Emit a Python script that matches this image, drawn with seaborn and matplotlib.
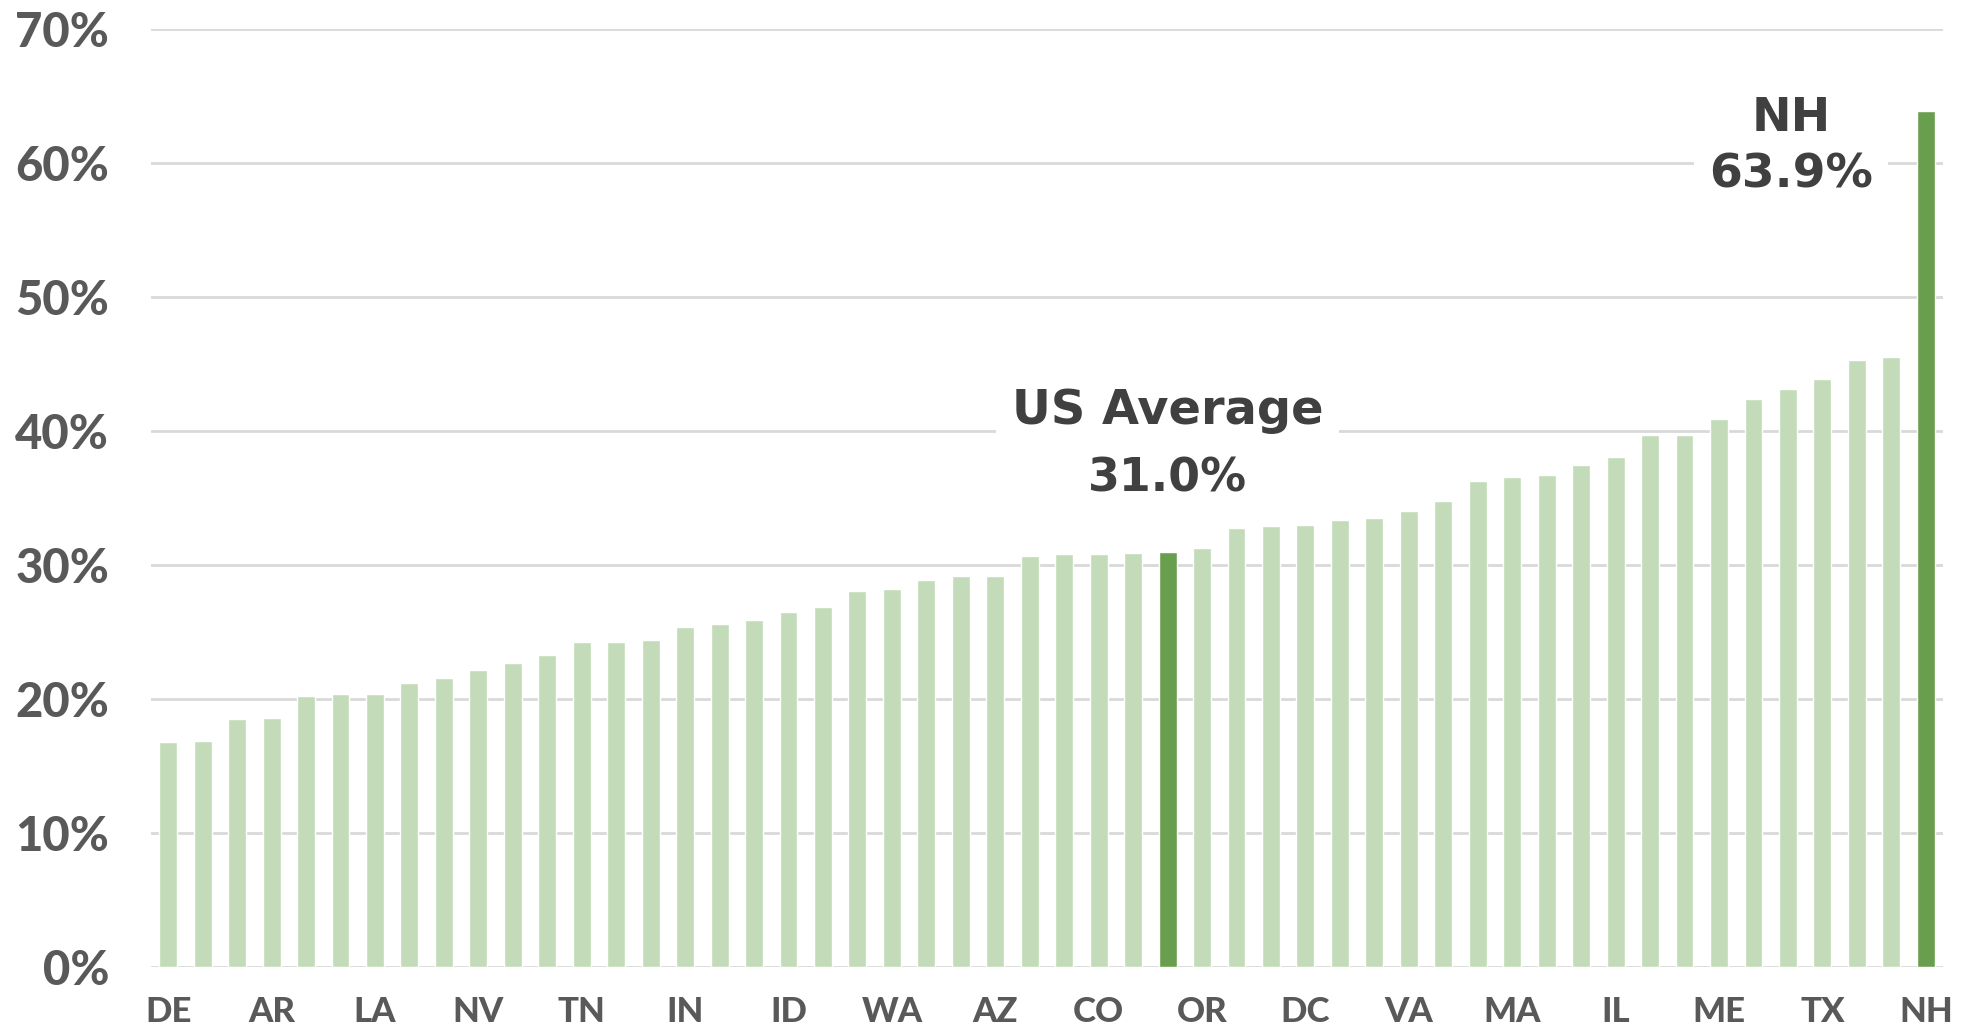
import numpy as np
import pandas as pd
import seaborn as sns
import matplotlib.pyplot as plt

# labelled states (every third bar)
tick_states = ["DE", "AR", "LA", "NV", "TN", "IN", "ID", "WA", "AZ",
               "CO", "OR", "DC", "VA", "MA", "IL", "ME", "TX", "NH"]

# share per bar, sorted ascending (50 states + DC + US average)
rates = [16.8, 16.9, 18.5, 18.6, 20.2, 20.4, 20.4, 21.2, 21.6, 22.2,
         22.7, 23.3, 24.3, 24.3, 24.4, 25.4, 25.6, 25.9, 26.5, 26.9,
         28.1, 28.2, 28.9, 29.2, 29.2, 30.7, 30.8, 30.8, 30.9, 31.0,
         31.3, 32.8, 32.9, 33.0, 33.4, 33.5, 34.0, 34.8, 36.3, 36.6,
         36.7, 37.5, 38.1, 39.7, 39.7, 40.9, 42.4, 43.1, 43.9, 45.3,
         45.5, 63.9]

us_avg_pos = 29
us_avg = 31.0
nh_value = 63.9

groups = ["other"] * len(rates)
groups[us_avg_pos] = "us"
groups[-1] = "nh"

df = pd.DataFrame({"pos": range(len(rates)), "rate": rates, "group": groups})
palette = {"other": "#c3dbb8", "us": "#6a9e4f", "nh": "#6a9e4f"}

sns.set_theme(style="white")
plt.rcParams["font.family"] = ["Lato", "DejaVu Sans"]

fig = plt.figure(figsize=(19.73, 10.26), dpi=100)
ax = fig.add_axes([0.0765, 0.0572, 0.9083, 0.9147])

sns.barplot(data=df, x="pos", y="rate", hue="group", palette=palette,
            dodge=False, width=0.52, legend=False, ax=ax, saturation=1)

ax.set_xlim(-0.5, len(rates) - 0.5)
ax.set_ylim(0, 70)
ax.set_axisbelow(True)
ax.yaxis.grid(True, color="#d9d9d9", linewidth=2)
ax.xaxis.grid(False)
for s in ax.spines.values():
    s.set_visible(False)

ax.set_yticks(np.arange(0, 71, 10))
ax.set_yticklabels([f"{v}%" for v in range(0, 71, 10)], fontsize=34,
                   fontweight="black", color="#595959")
ax.set_xticks(np.arange(0, len(rates), 3))
ax.set_xticklabels(tick_states, fontsize=25, fontweight="black", color="#595959")
ax.tick_params(axis="y", length=0, pad=30)
ax.tick_params(axis="x", length=0, pad=21)
ax.set_xlabel("")
ax.set_ylabel("")

box = dict(facecolor="white", edgecolor="none", pad=11)
ax.text(us_avg_pos, 40.5, "US Average", ha="center", va="baseline",
        fontsize=34.5, fontweight="bold", color="#404040",
        family="DejaVu Sans", bbox=box)
ax.text(us_avg_pos, 35.5, f"{us_avg:.1f}%", ha="center", va="baseline",
        fontsize=33, fontweight="bold", color="#404040",
        family="DejaVu Sans")
ax.text(47.1, 62.4, "NH", ha="center", va="baseline",
        fontsize=34, fontweight="bold", color="#404040",
        family="DejaVu Sans")
ax.text(47.1, 58.2, f"{nh_value:.1f}%", ha="center", va="baseline",
        fontsize=34, fontweight="bold", color="#404040",
        family="DejaVu Sans", bbox=box)

fig.savefig("out.png", dpi=100)
